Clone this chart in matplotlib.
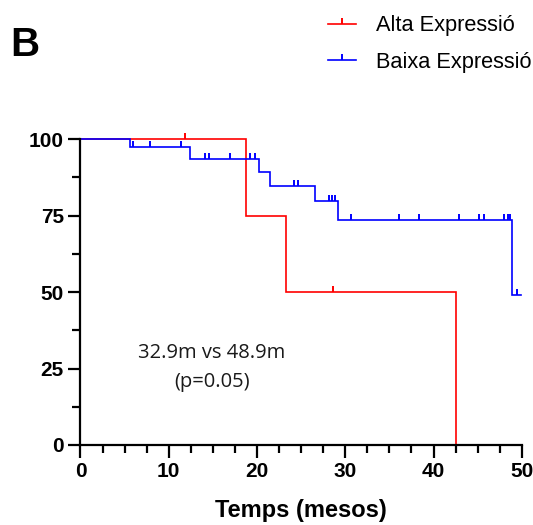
import matplotlib
matplotlib.use("Agg")
import matplotlib.pyplot as plt
import numpy as np
from matplotlib.lines import Line2D
from matplotlib.ticker import MultipleLocator

# Kaplan-Meier step data (time in months, survival in %)
alta_times = [0, 18.7, 23.3, 42.5]
alta_surv = [100, 75, 50, 0]
alta_censored = [11.8, 28.6]

baixa_times = [0, 5.6, 12.4, 20.2, 21.5, 26.6, 29.2, 48.9]
baixa_surv = [100, 97.4, 93.5, 89.1, 84.8, 79.7, 73.5, 49.0]
baixa_end = 49.9
baixa_censored = [6.0, 7.9, 11.4, 14.1, 14.6, 16.9, 19.2, 19.8, 24.2, 24.7,
                  28.2, 28.5, 28.8, 30.6, 36.1, 38.3, 42.9, 45.2, 45.7,
                  48.0, 48.4, 48.7, 49.5]

labels = ["Alta Expressió", "Baixa Expressió"]
colors = ["#ff0000", "#0000ff"]
annotation = "32.9m vs 48.9m\n(p=0.05)"

# censor mark: short vertical bar rising from the curve
censor_marker = [(0, 0), (0, 1)]

plt.rcParams['font.family'] = ['Liberation Sans', 'DejaVu Sans']

fig = plt.figure(figsize=(5.33, 5.25), dpi=100)
ax = fig.add_axes([0.151, 0.1524, 0.828, 0.5826])


def step_value(times, surv, t):
    idx = np.searchsorted(times, t, side='right') - 1
    return surv[idx]


def draw_km(times, surv, end, cens, color):
    xs = list(times) + ([end] if end is not None else [])
    ys = list(surv) + ([surv[-1]] if end is not None else [])
    ax.step(xs, ys, where='post', color=color, lw=1.2, clip_on=False,
            solid_joinstyle='miter')
    cy = [step_value(times, surv, t) for t in cens]
    ax.plot(cens, cy, linestyle='none', marker=censor_marker, markersize=8,
            markeredgewidth=1.4, color=color, clip_on=False)


draw_km(alta_times, alta_surv, None, alta_censored, colors[0])
draw_km(baixa_times, baixa_surv, baixa_end, baixa_censored, colors[1])

ax.set_xlim(0, 50)
ax.set_ylim(0, 100)
ax.xaxis.set_major_locator(MultipleLocator(10))
ax.xaxis.set_minor_locator(MultipleLocator(2.5))
ax.yaxis.set_major_locator(MultipleLocator(25))
ax.yaxis.set_minor_locator(MultipleLocator(12.5))

for side in ['top', 'right']:
    ax.spines[side].set_visible(False)
for side in ['left', 'bottom']:
    ax.spines[side].set_linewidth(1.6)

ax.tick_params(which='major', length=9, width=1.6, labelsize=15, pad=3)
ax.tick_params(which='minor', length=5.5, width=1.6)
for lab in ax.get_xticklabels() + ax.get_yticklabels():
    lab.set_fontweight('bold')

ax.set_xlabel("Temps (mesos)", fontsize=17, fontweight='bold', labelpad=13)

ax.text(14.9, 25.3, annotation, ha='center', va='center', fontsize=14.5,
        family=['Open Sans', 'DejaVu Sans'], color='#1a1a1a',
        linespacing=1.62)

fig.text(0.019, 0.914, "B", fontsize=29, fontweight='bold', ha='left',
         va='center')

handles = [Line2D([0], [0], color=c, lw=1.2, marker=censor_marker,
                  markersize=8, markeredgewidth=1.4) for c in colors]
fig.legend(handles, labels, loc='upper left', bbox_to_anchor=(0.578, 1.008),
           frameon=False, fontsize=15.7, handlelength=1.3,
           handletextpad=0.9, labelspacing=0.72, numpoints=1)

fig.savefig("out.png", dpi=100)
